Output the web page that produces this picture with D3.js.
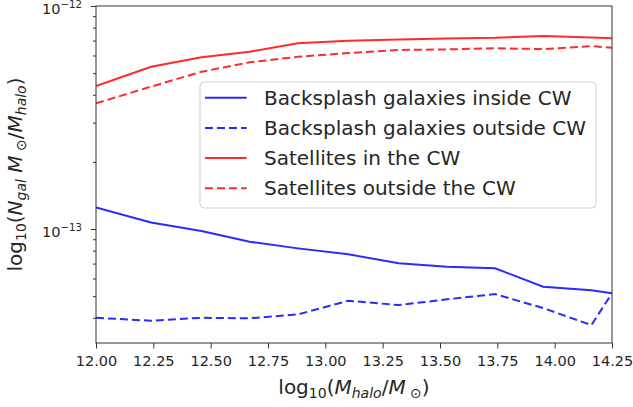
<!DOCTYPE html>
<html>
<head>
<meta charset="utf-8">
<script src="https://cdn.jsdelivr.net/npm/d3@7"></script>
<style>
  body { margin: 0; background: #fff; }
  text { font-family: "DejaVu Sans", sans-serif; fill: #262626; }
</style>
</head>
<body>
<svg id="chart" width="633" height="407"></svg>
<script>
// halo mass bins (log10 M_halo / M_sun)
var massBins = [12.0, 12.24, 12.46, 12.67, 12.88, 13.1, 13.32, 13.53, 13.74, 13.95, 14.16, 14.25];

var bsInside  = [1.25e-13, 1.07e-13, 9.8e-14, 8.77e-14, 8.19e-14, 7.70e-14, 7.02e-14, 6.78e-14, 6.67e-14, 5.51e-14, 5.32e-14, 5.15e-14];
var bsOutside = [4.00e-14, 3.88e-14, 4.00e-14, 3.98e-14, 4.14e-14, 4.77e-14, 4.56e-14, 4.84e-14, 5.11e-14, 4.42e-14, 3.71e-14, 5.15e-14];
var satInside  = [4.38e-13, 5.34e-13, 5.89e-13, 6.24e-13, 6.80e-13, 6.99e-13, 7.08e-13, 7.15e-13, 7.20e-13, 7.34e-13, 7.22e-13, 7.17e-13];
var satOutside = [3.66e-13, 4.35e-13, 5.07e-13, 5.59e-13, 5.92e-13, 6.15e-13, 6.35e-13, 6.39e-13, 6.46e-13, 6.41e-13, 6.61e-13, 6.50e-13];

var xTicks = [12.0, 12.25, 12.5, 12.75, 13.0, 13.25, 13.5, 13.75, 14.0, 14.25];
var yMajor = [1e-12, 1e-13];
var yMinor = [4e-14, 5e-14, 6e-14, 7e-14, 8e-14, 9e-14, 2e-13, 3e-13, 4e-13, 5e-13, 6e-13, 7e-13, 8e-13, 9e-13];

var series = [
  {name: "Backsplash galaxies inside CW",  vals: bsInside,  color: "#2a2aff", dash: null},
  {name: "Backsplash galaxies outside CW", vals: bsOutside, color: "#2a2aff", dash: "8,4"},
  {name: "Satellites in the CW",           vals: satInside, color: "#ff2a2a", dash: null},
  {name: "Satellites outside the CW",      vals: satOutside, color: "#ff2a2a", dash: "8,4"}
];

var svg = d3.select("#chart");
var pL = 96, pR = 612, pT = 6, pB = 343;

var x = d3.scaleLinear().domain([12.0, 14.25]).range([pL, pR]);
var y = d3.scaleLog().domain([Math.pow(10, -13.511), 1e-12]).range([pB, pT]);

// lines
var line = d3.line()
  .x(function(d, i){ return x(massBins[i]); })
  .y(function(d){ return y(d); });

var plot = svg.append("g");
plot.append("clipPath").attr("id", "clip")
  .append("rect").attr("x", pL).attr("y", pT).attr("width", pR - pL).attr("height", pB - pT);

series.forEach(function(s){
  plot.append("path")
    .attr("clip-path", "url(#clip)")
    .attr("d", line(s.vals))
    .attr("fill", "none")
    .attr("stroke", s.color)
    .attr("stroke-width", 2)
    .attr("stroke-dasharray", s.dash);
});

// axes
var xAxis = d3.axisBottom(x).tickValues(xTicks).tickFormat(d3.format(".2f")).tickSize(5.5);
var gx = svg.append("g").attr("transform", "translate(0," + pB + ")").call(xAxis);
gx.select(".domain").remove();
gx.selectAll("text").attr("y", 23).attr("dy", 0)
  .attr("font-size", "14.5px").attr("font-family", "DejaVu Sans").attr("fill", "#262626");
gx.selectAll("line").attr("stroke", "#333");

var gyMinor = svg.append("g").attr("transform", "translate(" + pL + ",0)")
  .call(d3.axisLeft(y).tickValues(yMinor).tickSize(3).tickFormat(""));
gyMinor.select(".domain").remove();
gyMinor.selectAll("line").attr("stroke", "#333");

var gy = svg.append("g").attr("transform", "translate(" + pL + ",0)")
  .call(d3.axisLeft(y).tickValues(yMajor).tickSize(5).tickFormat(""));
gy.select(".domain").remove();
gy.selectAll("line").attr("stroke", "#333");

yMajor.forEach(function(v){
  var t = svg.append("text")
    .attr("x", pL - 14).attr("y", y(v) + 7.5)
    .attr("text-anchor", "end").attr("font-size", "14.5px");
  t.append("tspan").text("10");
  t.append("tspan").attr("dy", -5.5).attr("font-size", "10.2px").text("\u2212" + Math.round(-Math.log10(v)));
});

// frame
svg.append("rect")
  .attr("x", pL).attr("y", pT).attr("width", pR - pL).attr("height", pB - pT)
  .attr("fill", "none").attr("stroke", "#333").attr("stroke-width", 1);

// axis labels (mathtext-like: main / subscript pieces)
function mathLabel(t, parts){
  parts.forEach(function(p){
    var ts = t.append("tspan").text(p[0]);
    if(p[1]) ts.attr("font-size", "14px").attr("dy", 4);
    if(p[2]) ts.attr("font-style", "italic");
    if(p[3]) ts.attr("dy", -4);
  });
}

var xl = svg.append("text").attr("x", (pL + pR) / 2).attr("y", 394)
  .attr("text-anchor", "middle").attr("font-size", "20px");
mathLabel(xl, [
  ["log"], ["10", 1], ["(", 0, 0, 1], ["M", 0, 1], ["halo", 1, 1], ["/", 0, 0, 1],
  ["M", 0, 1], [" \u2299", 1], [")", 0, 0, 1]
]);

var yl = svg.append("text")
  .attr("transform", "translate(21.5," + ((pT + pB) / 2) + ") rotate(-90)")
  .attr("text-anchor", "middle").attr("font-size", "20px");
mathLabel(yl, [
  ["log"], ["10", 1], ["(", 0, 0, 1], ["N", 0, 1], ["gal", 1, 1], [" M", 0, 1, 1],
  [" \u2299", 1], ["/", 0, 0, 1], ["M", 0, 1], ["halo", 1, 1], [")", 0, 0, 1]
]);

// legend
var lg = svg.append("g").attr("transform", "translate(200,82)");
lg.append("rect").attr("width", 396).attr("height", 126).attr("rx", 4)
  .attr("fill", "#fff").attr("fill-opacity", 0.8).attr("stroke", "#d0d0d0");
series.forEach(function(s, i){
  var yy = 15.7 + i * 30.2;
  lg.append("line").attr("x1", 5).attr("x2", 46.7).attr("y1", yy).attr("y2", yy)
    .attr("stroke", s.color).attr("stroke-width", 2).attr("stroke-dasharray", s.dash);
  lg.append("text").attr("x", 64).attr("y", yy + 7).attr("font-size", "20px").text(s.name);
});
</script>
</body>
</html>
